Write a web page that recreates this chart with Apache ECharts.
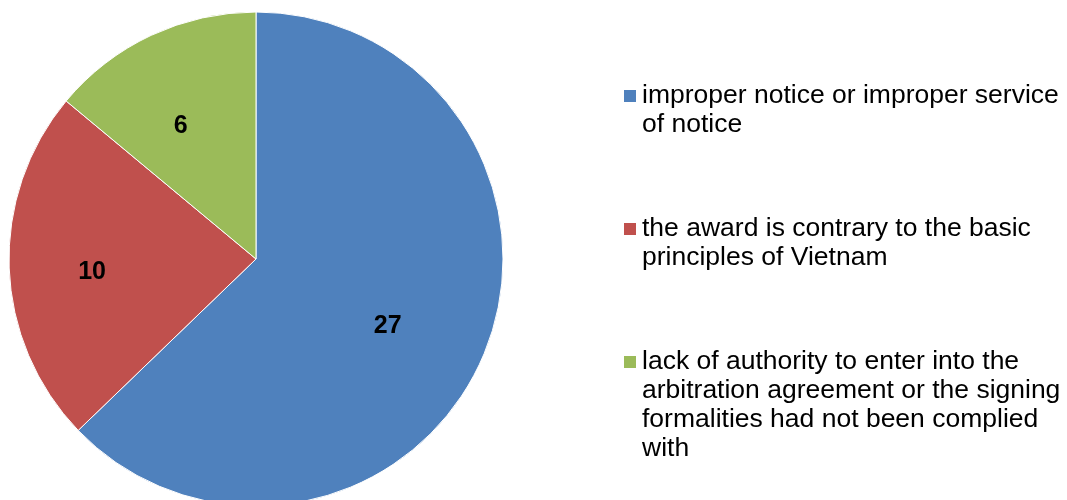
<!DOCTYPE html>
<html>
<head>
<meta charset="utf-8">
<script src="https://cdn.jsdelivr.net/npm/echarts@6/dist/echarts.min.js"></script>
<style>
html,body{margin:0;padding:0;background:#ffffff;}
#chart{width:1067px;height:500px;}
</style>
</head>
<body>
<div id="chart"></div>
<script>
// ---- data ----
var categories = [
  'improper notice or improper service of notice',
  'the award is contrary to the basic principles of Vietnam',
  'lack of authority to enter into the arbitration agreement or the signing formalities had not been complied with'
];
var values = [27, 10, 6];
var legendLines = [
  ['improper notice or improper service', 'of notice'],
  ['the award is contrary to the basic', 'principles of Vietnam'],
  ['lack of authority to enter into the', 'arbitration agreement or the signing', 'formalities had not been complied', 'with']
];
var colors = ['#4F81BD', '#C0504D', '#9BBB59'];

// ---- chart ----
var FONT = '"Liberation Sans", Arial, sans-serif';
var LH = 29;
var iconCenters = [96, 229, 362];

var pieData = categories.map(function (c, i) {
  return { name: c, value: values[i], itemStyle: { color: colors[i] } };
});

var legends = categories.map(function (c, i) {
  var lines = legendLines[i];
  var n = lines.length;
  var blanks = [];
  for (var k = 0; k < n - 1; k++) blanks.push('');
  var text = blanks.concat(lines).join('\n');
  return {
    orient: 'vertical',
    left: 622,
    top: iconCenters[i] - (2 * n - 1) * LH / 2,
    padding: 0,
    itemWidth: 14,
    itemHeight: 14,
    icon: 'rect',
    selectedMode: false,
    data: [{ name: c, itemStyle: { color: colors[i] } }],
    formatter: function () { return text; },
    textStyle: { fontFamily: FONT, fontSize: 26.5, color: '#000000', lineHeight: LH }
  };
});

var chart = echarts.init(document.getElementById('chart'), null, { renderer: 'canvas' });
chart.setOption({
  backgroundColor: '#ffffff',
  animation: false,
  legend: legends,
  series: [
    {
      type: 'pie',
      center: [256, 259],
      radius: [0, 247],
      startAngle: 90,
      clockwise: true,
      silent: true,
      label: { show: false },
      labelLine: { show: false },
      itemStyle: { borderColor: '#ffffff', borderWidth: 1 },
      data: pieData
    },
    {
      type: 'pie',
      center: [246, 266],
      radius: [120, 182],
      startAngle: 90,
      clockwise: true,
      silent: true,
      emphasis: { disabled: true },
      itemStyle: { color: 'rgba(0,0,0,0)', borderWidth: 0 },
      label: {
        show: true,
        position: 'inside',
        formatter: '{c}',
        fontFamily: FONT,
        fontWeight: 'bold',
        fontSize: 25,
        color: '#000000'
      },
      labelLine: { show: false },
      data: categories.map(function (c, i) { return { name: c, value: values[i], itemStyle: { color: 'rgba(0,0,0,0)' } }; })
    }
  ]
});
</script>
</body>
</html>
